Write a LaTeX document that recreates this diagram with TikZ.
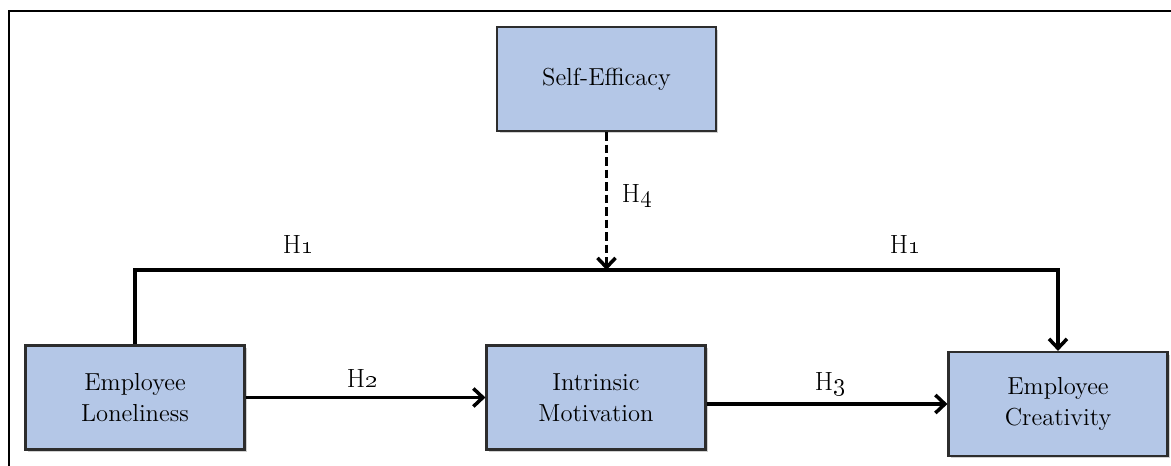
\documentclass[tikz,border=0pt]{standalone}
\usetikzlibrary{arrows.meta,shadows}
\definecolor{boxfill}{RGB}{180,199,231}
\definecolor{boxline}{RGB}{45,45,45}
\tikzset{
  box/.style={draw=boxline, line width=1.25pt, fill=boxfill,
    minimum width=4.38cm, minimum height=2.08cm, align=center,
    font=\fontsize{14}{17.5}\selectfont,
    drop shadow={shadow xshift=0.05cm, shadow yshift=-0.05cm, opacity=0.3, fill=black!60}},
  conn/.style={line width=2pt, draw=black},
  arr/.style={conn, -{Straight Barb[length=1.9mm, width=3.6mm, line width=2pt]}},
  lab/.style={font=\fontsize{15}{17}\selectfont, inner sep=1pt}
}
\newcommand{\hyp}[1]{H\oldstylenums{#1}}
\begin{document}
\begin{tikzpicture}[x=0.02cm,y=-0.02cm]
\useasboundingbox (0,0) rectangle (1171,466);
\coordinate (f1) at (9,466);
\coordinate (f2) at (9,11);
\coordinate (f3) at (1171,11);
\draw[line width=1.2pt] (f1) -- (f2) -- (f3);

\node[box] (se) at (606.5,79) {Self-Efficacy};
\node[box] (el) at (135,397.5) {Employee\\Loneliness};
\node[box] (im) at (596,397.5) {Intrinsic\\Motivation};
\node[box] (ec) at (1058,404) {Employee\\Creativity};

\coordinate (top) at (606,270);
\draw[arr] (el.north) -- (el.north |- top) -- (ec.north |- top) -- (ec.north);
\draw[arr, dash pattern=on 0.17cm off 0.08cm] (se.south) -- (se.south |- top);
\draw[arr] (el.east) -- (im.west);
\draw[arr] (ec.west -| im.east) -- (ec.west);

\node[lab] (l1) at (298,245) {\hyp{1}};
\node[lab] (l1b) at (905,245) {\hyp{1}};
\node[lab] (l4) at (637,196) {\hyp{4}};
\node[lab] (l2) at (362,378) {\hyp{2}};
\node[lab] (l3) at (830,384) {\hyp{3}};
\end{tikzpicture}
\end{document}
